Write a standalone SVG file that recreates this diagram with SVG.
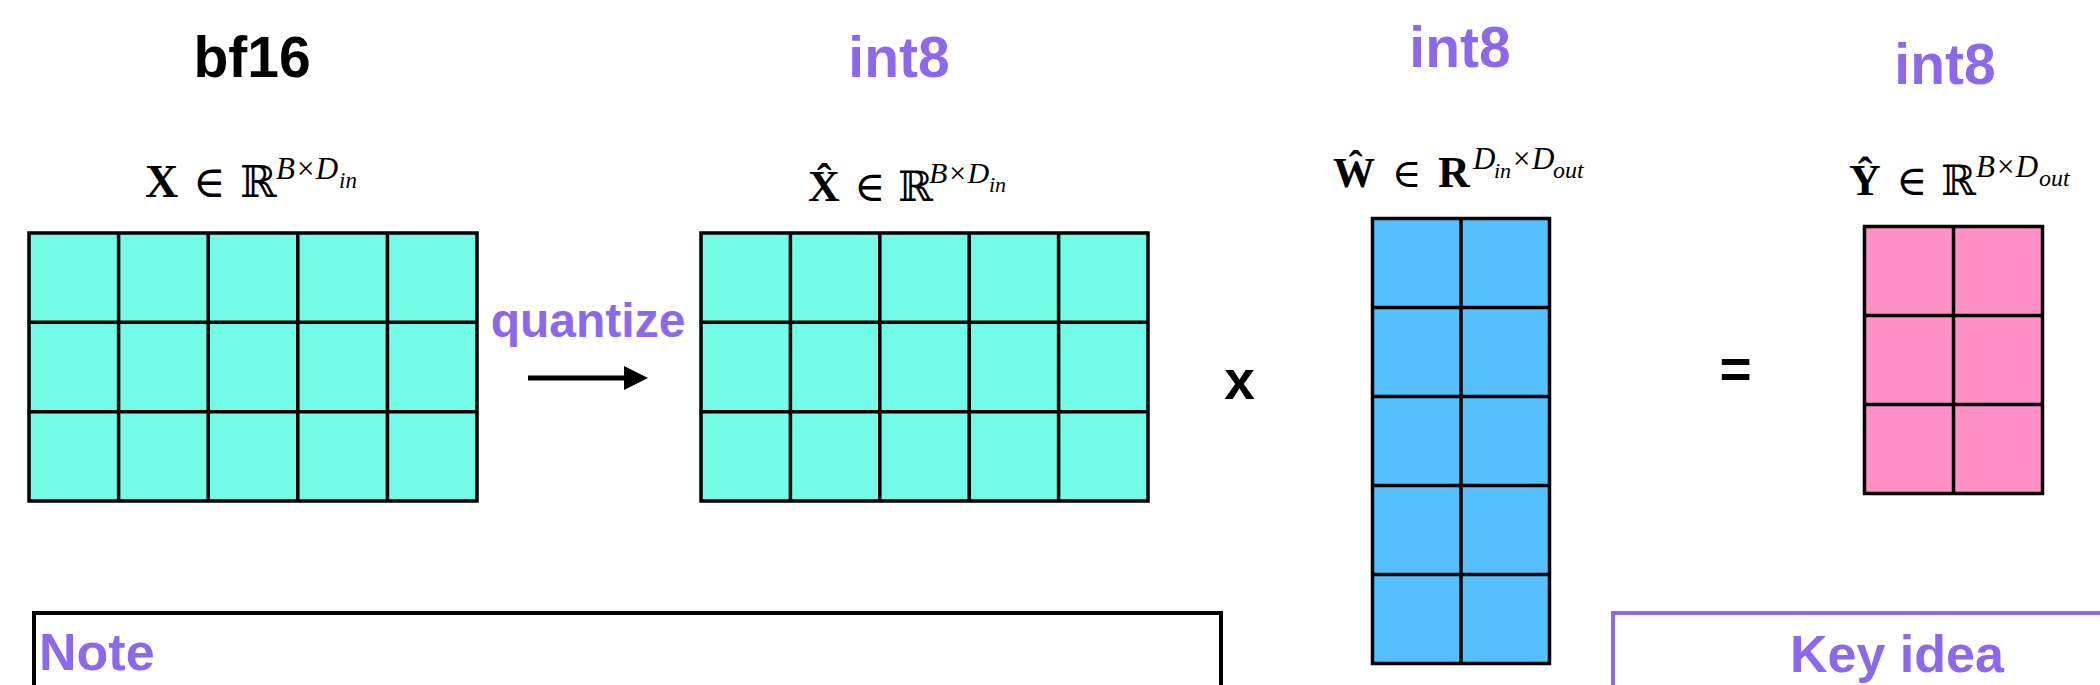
<svg xmlns="http://www.w3.org/2000/svg" width="2100" height="685" viewBox="0 0 2100 685">
<defs>
<style>
.title{font-family:"Liberation Sans",Arial,sans-serif;font-weight:bold;font-size:57px;text-anchor:middle}
.purple{fill:#8B69E8}
.ink{fill:#000}
.math{font-family:"Liberation Serif","DejaVu Serif",serif;fill:#000}
.bb{font-family:"DejaVu Serif",serif}
.it{font-style:italic}
.bold{font-weight:bold}
.cellT{fill:#74FBE8}
.cellB{fill:#56BFFE}
.cellP{fill:#FF91C7}
.grid{fill:none;stroke:#000;stroke-width:3.5}
.box{fill:none;stroke-width:4}
</style>
<marker id="ah" markerUnits="userSpaceOnUse" markerWidth="24" markerHeight="24" refX="0" refY="12" orient="auto" viewBox="0 0 24 24"><path d="M0,0 L24,12 L0,24 Z" fill="#000"/></marker>
</defs>
<rect x="0" y="0" width="2100" height="685" fill="#fff"/>

<g id="title-bf16"><text class="title ink" x="252" y="77">bf16</text></g>
<g id="title-int8-xhat"><text class="title purple" x="899" y="77">int8</text></g>
<g id="title-int8-w"><text class="title purple" x="1460" y="67">int8</text></g>
<g id="title-int8-y"><text class="title purple" x="1945" y="84">int8</text></g>

<g id="label-x">
<text class="math" y="197"><tspan x="145" class="bold" font-size="46">X</tspan><tspan x="193" font-size="44">∈</tspan><tspan x="240" class="bb" font-size="44">ℝ</tspan><tspan x="276" y="179" class="it" font-size="31">B×D</tspan><tspan x="339" y="188" class="it" font-size="23">in</tspan></text>
</g>
<g id="label-xhat">
<text class="math" y="201"><tspan x="808" class="bold" font-size="44">X̂</tspan><tspan x="854" font-size="42">∈</tspan><tspan x="898" class="bb" font-size="42">ℝ</tspan><tspan x="929" y="183" class="it" font-size="30">B×D</tspan><tspan x="989" y="192" class="it" font-size="22">in</tspan></text>
</g>
<g id="label-what">
<text class="math" y="187"><tspan x="1333" class="bold" font-size="42">Ŵ</tspan><tspan x="1392" font-size="40">∈</tspan><tspan x="1438" class="bold" font-size="44">R</tspan><tspan x="1473" y="169" class="it" font-size="31">D</tspan><tspan x="1494" y="178" class="it" font-size="22">in</tspan><tspan x="1511" y="169" class="it" font-size="31">×D</tspan><tspan x="1553" y="178" class="it" font-size="24">out</tspan></text>
</g>
<g id="label-yhat">
<text class="math" y="195"><tspan x="1849" class="bold" font-size="44">Ŷ</tspan><tspan x="1896" font-size="42">∈</tspan><tspan x="1941" class="bb" font-size="42">ℝ</tspan><tspan x="1976" y="177" class="it" font-size="31">B×D</tspan><tspan x="2039" y="186" class="it" font-size="24">out</tspan></text>
</g>

<g id="matrix-x">
<rect class="cellT" x="29" y="233" width="448" height="268"/>
<path class="grid" d="M29,233H477V501H29Z M118.6,233V501 M208.2,233V501 M297.8,233V501 M387.4,233V501 M29,322.3H477 M29,411.7H477"/>
</g>
<g id="matrix-xhat">
<rect class="cellT" x="701" y="233" width="447" height="268"/>
<path class="grid" d="M701,233H1148V501H701Z M790.4,233V501 M879.8,233V501 M969.2,233V501 M1058.6,233V501 M701,322.3H1148 M701,411.7H1148"/>
</g>
<g id="matrix-what">
<rect class="cellB" x="1372.5" y="218.5" width="177" height="445"/>
<path class="grid" d="M1372.5,218.5H1549.5V663.5H1372.5Z M1461,218.5V663.5 M1372.5,307.5H1549.5 M1372.5,396.5H1549.5 M1372.5,485.5H1549.5 M1372.5,574.5H1549.5"/>
</g>
<g id="matrix-yhat">
<rect class="cellP" x="1864.5" y="226.5" width="178" height="267"/>
<path class="grid" d="M1864.5,226.5H2042.5V493.5H1864.5Z M1953.5,226.5V493.5 M1864.5,315.5H2042.5 M1864.5,404.5H2042.5"/>
</g>

<g id="op-quantize"><text class="purple" x="588" y="337" font-family="Liberation Sans, Arial, sans-serif" font-weight="bold" font-size="48" text-anchor="middle">quantize</text></g>
<g id="op-times"><text class="ink" x="1239.5" y="399" font-family="Liberation Sans, Arial, sans-serif" font-weight="bold" font-size="55" text-anchor="middle">x</text></g>
<g id="op-equals"><text class="ink" x="1735.5" y="388" font-family="Liberation Sans, Arial, sans-serif" font-weight="bold" font-size="55" text-anchor="middle">=</text></g>

<g id="connectors">
<path d="M528,378H624" stroke="#000" stroke-width="5" fill="none" marker-end="url(#ah)"/>
</g>

<g id="note-box">
<rect class="box" x="34" y="613" width="1187" height="200" stroke="#000"/>
<text class="purple" x="39" y="670" font-family="Liberation Sans, Arial, sans-serif" font-weight="bold" font-size="52">Note</text>
</g>
<g id="keyidea-box">
<rect class="box" x="1613" y="613" width="600" height="200" stroke="#8B69E8"/>
<text class="purple" x="1790" y="672" font-family="Liberation Sans, Arial, sans-serif" font-weight="bold" font-size="52">Key idea</text>
</g>
</svg>
